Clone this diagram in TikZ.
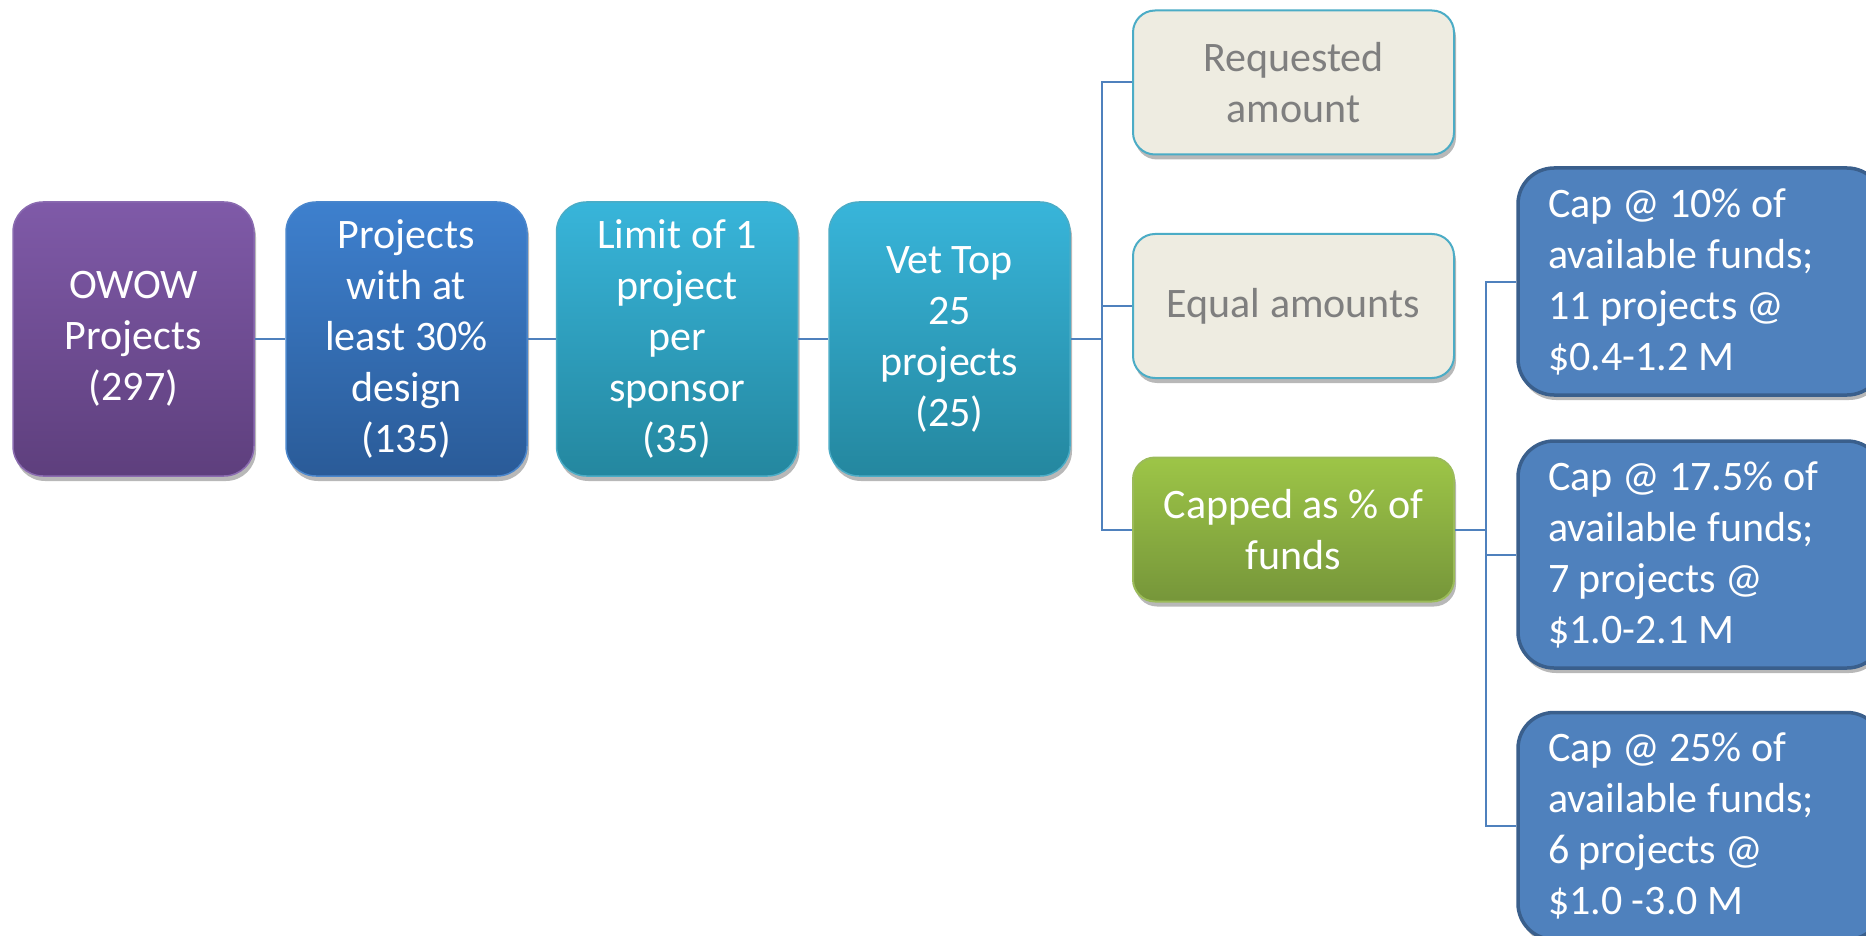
\documentclass[tikz,border=0pt]{standalone}
\usepackage{fontspec}
\setmainfont{Carlito}
\usetikzlibrary{shadows}
\definecolor{conn}{HTML}{4F81BD}
\definecolor{purT}{HTML}{7F5AA8}
\definecolor{purB}{HTML}{5E3F7D}
\definecolor{purE}{HTML}{8A6BB0}
\definecolor{bluT}{HTML}{3E80CE}
\definecolor{bluB}{HTML}{2A5B98}
\definecolor{bluE}{HTML}{4A86CC}
\definecolor{cyaT}{HTML}{38B5DA}
\definecolor{cyaB}{HTML}{24879F}
\definecolor{cyaE}{HTML}{4BACC6}
\definecolor{beige}{HTML}{EEECE1}
\definecolor{grayT}{HTML}{7F7F7F}
\definecolor{grnT}{HTML}{9DC547}
\definecolor{grnB}{HTML}{76963A}
\definecolor{grnE}{HTML}{9BBB59}
\definecolor{capF}{HTML}{4F81BD}
\definecolor{capE}{HTML}{3A5F8C}
\newfontfamily\boxfont{Carlito}
\tikzset{
  shad/.style={drop shadow={shadow xshift=2pt, shadow yshift=-5pt, opacity=0.28, fill=black}},
  mainbox/.style={shad, rounded corners=30pt, minimum width=241pt, minimum height=274pt,
    inner sep=0pt, align=center, text=white, line width=1.5pt,
    font=\boxfont\fontsize{42}{51}\selectfont},
  optbox/.style={shad, rounded corners=22pt, minimum width=321pt, minimum height=144pt,
    inner sep=0pt, align=center, line width=2pt,
    font=\boxfont\fontsize{42}{51}\selectfont},
  capbox/.style={shad, rounded corners=36pt, fill=capF, draw=capE, line width=3.5pt,
    text width=305pt, inner xsep=30pt, inner ysep=0pt, minimum height=227pt,
    align=flush left, text=white, font=\boxfont\fontsize{42}{51}\selectfont},
  link/.style={draw=conn, line width=2pt}
}
\begin{document}
\begin{tikzpicture}[x=1pt,y=-1pt]
\useasboundingbox (0,0) rectangle (1866,936);
\clip (0,0) rectangle (1866,936);
\fill[white] (0,0) rectangle (1866,936);
% main row
\node[mainbox, top color=purT, bottom color=purB, draw=purE] (owow) at (133.5,339) {OWOW\\Projects\\(297)};
\node[mainbox, top color=bluT, bottom color=bluB, draw=bluE] (design) at (406.5,339) {Projects\\with at\\least 30\%\\design\\(135)};
\node[mainbox, top color=cyaT, bottom color=cyaB, draw=cyaE] (limit) at (677,339) {Limit of 1\\project\\per\\sponsor\\(35)};
\node[mainbox, top color=cyaT, bottom color=cyaB, draw=cyaE] (vet) at (949.5,339) {Vet Top\\25\\projects\\(25)};
% options
\node[optbox, fill=beige, draw=cyaE, text=grayT] (req) at (1293.5,82.5) {Requested\\amount};
\node[optbox, fill=beige, draw=cyaE, text=grayT] (equal) at (1293.5,306) {Equal amounts};
\node[optbox, top color=grnT, bottom color=grnB, draw=grnE, text=white] (capped) at (1293.5,529.5) {Capped as \% of\\funds};
% caps
\node[capbox] (c10) at (1700.5,281.5) {Cap @ 10\% of\\available funds;\\11 projects @\\\$0.4-1.2 M};
\node[capbox] (c17) at (1700.5,554.5) {Cap @ 17.5\% of\\available funds;\\7 projects @\\\$1.0-2.1 M};
\node[capbox] (c25) at (1700.5,826) {Cap @ 25\% of\\available funds;\\6 projects @\\\$1.0 -3.0 M};
% connectors
\coordinate (j1) at (1102,339);
\coordinate (j2) at (1486,529.5);
\draw[link] (owow.east) -- (design.west);
\draw[link] (design.east) -- (limit.west);
\draw[link] (limit.east) -- (vet.west);
\draw[link] (vet.east) -- (j1);
\draw[link] (j1) |- (req.west);
\draw[link] (j1) |- (equal.west);
\draw[link] (j1) |- (capped.west);
\draw[link] (capped.east) -- (j2);
\draw[link] (j2) |- (c10.west);
\draw[link] (j2) |- (c17.west);
\draw[link] (j2) |- (c25.west);
\end{tikzpicture}
\end{document}
